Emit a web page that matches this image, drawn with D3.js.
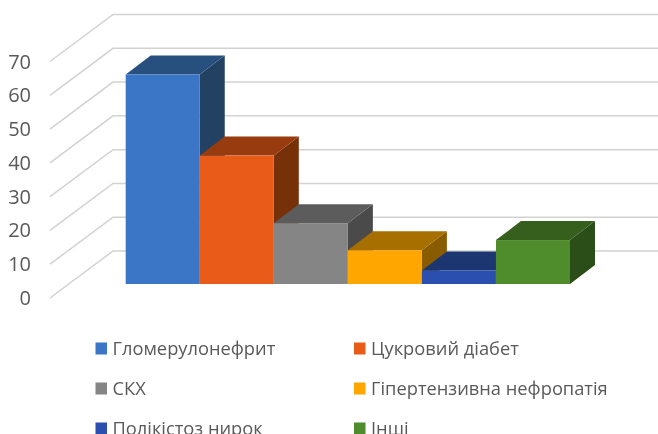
<!DOCTYPE html>
<html><head><meta charset="utf-8">
<script src="https://cdn.jsdelivr.net/npm/d3@7/dist/d3.min.js"></script>
<style>html,body{margin:0;padding:0;background:#fff;overflow:hidden}svg{display:block;filter:blur(0.4px)}text{font-family:"Open Sans",sans-serif;fill:#595959}</style>
</head><body><div id="chart"></div>
<script>
const categories = ["Гломерулонефрит","Цукровий діабет","СКХ","Гіпертензивна нефропатія","Полікістоз нирок","Інші"];
const values = [62, 38, 18, 10, 4, 13];
const tickValues = [0,10,20,30,40,50,60,70];
const frontColors = ["#3b76c6","#e95b18","#858585","#ffa600","#2a4fae","#4e8c2c"];
const topColors = ["#28507f","#983b0e","#5c5c5c","#a66f00","#1c3672","#365f1e"];
const sideColors = ["#234263","#773109","#4a4a4a","#8a5c00","#172c5d","#2b4d17"];

const W = 658, H = 434;
const svg = d3.select("#chart").append("svg").attr("width",W).attr("height",H);
const y = d3.scaleLinear().domain([0,70]).range([298,61.5]);      // value on the front edge of the floor
const wall = {dx:63, dy:-47, right:658, left:50};
const x = d3.scaleBand().domain(categories).range([125.7,570]).padding(0);
const bar = {dx:25, dy:-19, baseShift:-14};                         // bar front sits slightly inside the floor

// gridlines
const grid = svg.append("g").attr("fill","none").attr("stroke","#d2d2d2").attr("stroke-width",1.5);
tickValues.forEach(t=>{
  grid.append("path").attr("d",d3.line()([[wall.left,y(t)],[wall.left+wall.dx,y(t)+wall.dy],[wall.right,y(t)+wall.dy]]));
});

// axis labels
svg.append("g").selectAll("text").data(tickValues).join("text")
  .attr("x",31).attr("y",t=>y(t)+7).attr("text-anchor","end").attr("font-size",20).text(t=>t);

// 3-D bars
const bars = svg.append("g").selectAll("g").data(categories).join("g");
bars.each(function(c,i){
  const g = d3.select(this);
  const x0 = x(c), x1 = x0 + x.bandwidth();
  const base = y(0)+bar.baseShift, top = y(values[i])+bar.baseShift;
  const line = d3.line();
  g.append("path").attr("fill",sideColors[i]).attr("d",line([[x1,top],[x1+bar.dx,top+bar.dy],[x1+bar.dx,base+bar.dy],[x1,base]])+"Z");
  g.append("path").attr("fill",topColors[i]).attr("d",line([[x0,top],[x0+bar.dx,top+bar.dy],[x1+bar.dx,top+bar.dy],[x1,top]])+"Z");
  g.append("rect").attr("fill",frontColors[i]).attr("x",x0).attr("y",top).attr("width",x.bandwidth()).attr("height",base-top);
});

// legend
const colX = [95.5,354], rowY = [354.5,394.5,434.5];
const leg = svg.append("g").selectAll("g").data(categories).join("g")
  .attr("transform",(c,i)=>`translate(${colX[i%2]},${rowY[Math.floor(i/2)]})`);
leg.append("rect").attr("x",0).attr("y",-12).attr("width",11.5).attr("height",12).attr("fill",(c,i)=>frontColors[i]);
leg.append("text").attr("x",17).attr("y",0).attr("font-size",18.3).text(c=>c);
</script></body></html>
